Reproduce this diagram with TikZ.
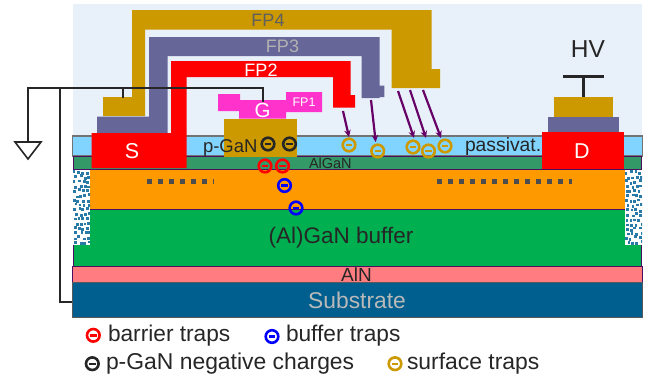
\documentclass[tikz,border=0pt]{standalone}
\usepackage{fontspec}
\setmainfont{Liberation Sans}
\definecolor{bgblue}{HTML}{E8F0FA}
\definecolor{passiv}{HTML}{80D4FF}
\definecolor{algan}{HTML}{339966}
\definecolor{chan}{HTML}{FF9900}
\definecolor{buf}{HTML}{00AF50}
\definecolor{aln}{HTML}{FF7C80}
\definecolor{subs}{HTML}{005F8F}
\definecolor{edge}{HTML}{4A0F5E}
\definecolor{gold}{HTML}{CC9900}
\definecolor{fpthree}{HTML}{666699}
\definecolor{fpone}{HTML}{FF33CC}
\definecolor{arrowp}{HTML}{660066}
\definecolor{ink}{HTML}{262626}
\definecolor{dotgray}{HTML}{4D4D4D}
\definecolor{hatch}{HTML}{2A7AA8}
\newcommand{\fsz}[1]{\fontsize{#1}{#1}\selectfont}
\newcommand{\trapmark}[4]{%
  \node[trapring,draw=#2] (#1) at (#3,#4) {};
  \draw[#2,line width=2.4pt] ([xshift=-3.2pt]#1.center) -- ([xshift=3.2pt]#1.center);}
\tikzset{
  lbl/.style={inner sep=0pt,outer sep=0pt,text=ink},
  trapring/.style={circle,line width=2.6pt,minimum size=12.6pt,inner sep=0pt},
  layer/.style={draw=edge,line width=1pt},
  wire/.style={draw=ink,line width=2.2pt},
  fieldarrow/.style={draw=arrowp,line width=2.2pt,-{Stealth[length=7pt,width=6.5pt]}},
}
\usetikzlibrary{arrows.meta}
\begin{document}
\begin{tikzpicture}[x=1pt,y=-1pt]
\useasboundingbox (0,0) rectangle (652,376);
% background
\fill[bgblue] (72.5,4) rectangle (642,136);
% layers
\filldraw[draw=gray!90!black,line width=1.5pt,fill=passiv] (72.5,136) rectangle (642.5,156);
\filldraw[layer,fill=algan] (73.5,156.5) rectangle (641.5,169);
\filldraw[layer,fill=buf] (73.5,209) rectangle (641.5,266);
\fill[chan] (90,169) rectangle (625,209);
\draw[layer] (73,169) -- (642,169);
\draw[layer] (90,209) -- (625,209);
\filldraw[layer,fill=aln] (72.5,266) rectangle (642,282);
\filldraw[draw=gray!70!black,line width=1pt,fill=subs] (72.5,282) rectangle (642,317);
% hatched side blocks
\fill[white] (73,170) rectangle (90,245);
\fill[white] (625,170) rectangle (642,245);
\pgfmathsetseed{23}
\foreach \bx in {73,625}{
  \begin{scope}
  \clip (\bx,170) rectangle (\bx+17,245);
  \foreach \ix in {0,...,3}{
    \foreach \iy in {0,...,15}{
      \pgfmathsetmacro{\px}{\bx+0.3+\ix*4.3+mod(\iy,2)*1.8+rand*1.2}
      \pgfmathsetmacro{\py}{171+\iy*4.7+rand*1.4}
      \fill[hatch] (\px,\py) rectangle +(2.8,2.8);
    }
  }
  \end{scope}
}
% trapped charge dashes
\draw[dotgray,line width=5pt,dash pattern=on 5pt off 6pt] (147,181) -- (214,181);
\draw[dotgray,line width=5pt,dash pattern=on 5pt off 6pt] (437,181) -- (572,181);
% FP4
\fill[gold] (103,116)--(145,116)--(145,29.5)--(391.7,29.5)--(391.7,88)--(440,88)--(440,69)--(431.7,69)--(431.7,10)--(132,10)--(132,97)--(103,97)--cycle;
% FP3
\fill[fpthree] (97,133)--(167.5,133)--(167.5,56)--(361.5,56)--(361.5,98)--(379.7,98)--(379.7,97)--(384.3,97)--(384.3,85.5)--(379.7,85.5)--(379.7,37)--(149,37)--(149,116.5)--(97,116.5)--cycle;
% FP2 and source
\fill[red] (91.5,168)--(186.5,168)--(186.5,77)--(333,77)--(333,107.5)--(355,107.5)--(355,95)--(350.7,95)--(350.7,61)--(171,61)--(171,133)--(91.5,133)--cycle;
% gate and p-GaN
\fill[gold] (224,118.5) rectangle (297,157);
\fill[fpone] (218,94)--(240,94)--(240,100)--(286,100)--(286,92)--(322,92)--(322,112)--(286,112)--(286,118.5)--(239,118.5)--(239,111)--(218,111)--cycle;
% drain stack
\fill[gold] (553.7,96.5) rectangle (612.7,116.5);
\fill[fpthree] (548,116.5) rectangle (618.5,133);
\fill[red] (541.7,132) rectangle (623.7,169);
% labels
\node[lbl,text=gray!75!black] (fpfour) at (268,20) {\fsz{18}FP4};
\node[lbl,text=gray!60] (fpthr) at (282.5,46.5) {\fsz{18}FP3};
\node[lbl,text=white] (fptwo) at (261,70) {\fsz{18}FP2};
\node[lbl,text=white] (fpon) at (304,102) {\fsz{12.5}FP1};
\node[lbl,text=white] (g) at (262.5,110) {\fsz{20.5}G};
\node[lbl,text=white] (s) at (132,151) {\fsz{21.5}S};
\node[lbl,text=white] (d) at (582,151) {\fsz{21.5}D};
\node[lbl,anchor=west] (pgan) at (203,148) {\fsz{18.5}p-GaN};
\node[lbl,anchor=west] (al) at (309,163) {\fsz{14.5}AlGaN};
\node[lbl,anchor=west] (pas) at (465,147) {\fsz{19.3}passivat.};
\node[lbl] (albuf) at (341,238) {\fsz{22.5}(Al)GaN buffer};
\node[lbl] (alnl) at (356.5,274.5) {\fsz{19}AlN};
\node[lbl,text=gray!55] (sub) at (357,300.5) {\fsz{22.8}Substrate};
\node[lbl] (hv) at (588,49) {\fsz{24.5}HV};
% traps
\trapmark{sa}{gold}{349}{145}
\trapmark{sb}{gold}{377.7}{151}
\trapmark{sc}{gold}{413}{147}
\trapmark{sd}{gold}{428.5}{151}
\trapmark{se}{gold}{445}{146}
\trapmark{ba}{red}{265}{166}
\trapmark{bb}{red}{282.5}{166}
\trapmark{ca}{blue}{284.5}{185.5}
\trapmark{cb}{blue}{296}{208}
\trapmark{pa}{ink}{268}{144}
\trapmark{pb}{ink}{289.5}{144}
% field arrows
\coordinate (fa) at (343,111);
\coordinate (fb) at (371,100);
\coordinate (fc) at (398,91);
\coordinate (fd) at (410,90);
\coordinate (fe) at (423,90);
\draw[fieldarrow] (fa) -- (349,137);
\draw[fieldarrow] (fb) -- (375.7,142);
\draw[fieldarrow] (fc) -- (414,138);
\draw[fieldarrow] (fd) -- (426,138);
\draw[fieldarrow] (fe) -- (441,138);
% wiring
\coordinate (gndcorner) at (28,88);
\coordinate (gndtop) at (28,142);
\coordinate (gatetop) at (263,102);
\coordinate (gateel) at (263,88);
\coordinate (subtap) at (60,88);
\coordinate (subend) at (72,302);
\coordinate (srctap) at (123,88);
\coordinate (srcend) at (123,98);
\draw[wire] (gatetop) -- (gateel) -- (gndcorner) -- (gndtop);
\draw[wire] (subtap) |- (subend);
\draw[wire,line width=1.8pt] (srctap) -- (srcend);
\filldraw[draw=ink,line width=1.6pt,fill=white] (15,142) -- (41,142) -- (28,159) -- cycle;
\coordinate (hvb) at (583.5,96.5);
\coordinate (hvt) at (583.5,76.5);
\draw[wire] (hvb) -- (hvt);
\draw[wire] (563,76.5) -- (604,76.5);
% legend
\trapmark{la}{red}{93.3}{335.3}
\node[lbl,anchor=west] (lta) at (108,336) {\fsz{22.7}barrier traps};
\trapmark{lb}{blue}{272}{336.5}
\node[lbl,anchor=west] (ltb) at (286,336) {\fsz{22.7}buffer traps};
\trapmark{lc}{ink}{92.3}{363.7}
\node[lbl,anchor=west] (ltc) at (106,364) {\fsz{22.9}p-GaN negative charges};
\trapmark{ld}{gold}{395}{363.7}
\node[lbl,anchor=west] (ltd) at (407,364) {\fsz{22.9}surface traps};
\end{tikzpicture}
\end{document}
